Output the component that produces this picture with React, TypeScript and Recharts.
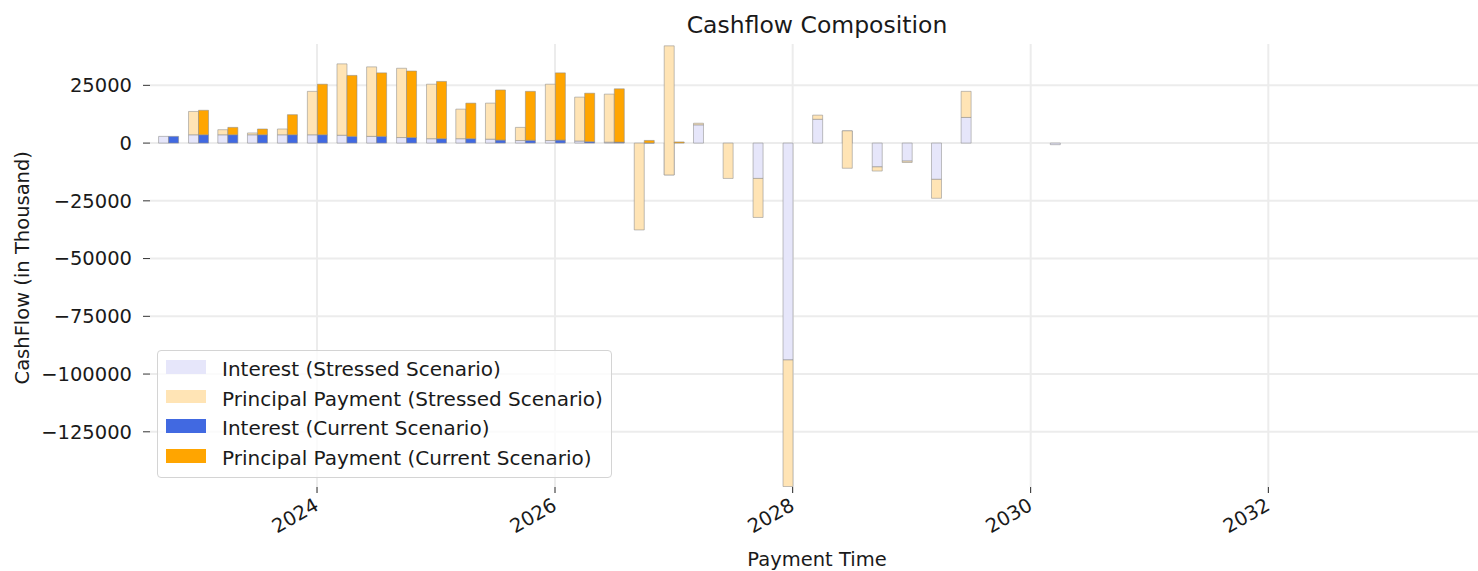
import React from "react";
import { Bar, BarChart, CartesianGrid, Legend, XAxis, YAxis } from "recharts";

// quarterly payment dates
const quarters = [
  "2022-10-01", "2023-01-01", "2023-04-01", "2023-07-01", "2023-10-01",
  "2024-01-01", "2024-04-01", "2024-07-01", "2024-10-01", "2025-01-01",
  "2025-04-01", "2025-07-01", "2025-10-01", "2026-01-01", "2026-04-01",
  "2026-07-01", "2026-10-01", "2027-01-01", "2027-04-01", "2027-07-01",
  "2027-10-01", "2028-01-01", "2028-04-01", "2028-07-01", "2028-10-01",
  "2029-01-01", "2029-04-01", "2029-07-01", "2029-10-01", "2030-01-01",
  "2030-04-01",
];

// values in thousand
const interestStressed = [
  2.9, 3.6, 3.6, 3.6, 3.6, 3.6, 3.4, 2.9, 2.4, 1.9,
  1.9, 1.7, 1.1, 1.1, 0.9, 0.4, 0, -13.8, 7.9, 0,
  -15.3, -93.9, 10.3, 5.3, -10.3, -7.8, -15.7, 11.1, 0, 0,
  -0.7,
];
const principalStressed = [
  0, 10.1, 2.2, 0.8, 2.5, 18.8, 30.9, 30.1, 30.0, 23.6,
  12.8, 15.6, 5.7, 24.4, 19.0, 20.8, -37.6, 55.9, 0.7, -15.3,
  -16.9, -54.8, 1.8, -16.2, -1.8, -0.6, -8.2, 11.3, 0, 0,
  0,
];
const interestCurrent = [
  2.9, 3.6, 3.6, 3.6, 3.6, 3.6, 2.9, 2.9, 2.4, 1.9,
  1.9, 1.3, 1.2, 1.3, 0.6, 0.4, 0.05, 0, 0, 0,
  0, 0, 0, 0, 0, 0, 0, 0, 0, 0,
  0,
];
const principalCurrent = [
  0, 10.6, 3.2, 2.5, 8.7, 21.9, 26.4, 27.5, 28.8, 24.8,
  15.4, 21.7, 21.2, 29.1, 21.0, 23.1, 1.1, 0.5, 0, 0,
  0, 0, 0, 0, 0, 0, 0, 0, 0, 0,
  0,
];

const yearTicks = [2024, 2026, 2028, 2030, 2032];
const yTicks = [-125000, -100000, -75000, -50000, -25000, 0, 25000];

const series = [
  { key: "is", label: "Interest (Stressed Scenario)", color: "#E6E6FA" },
  { key: "ps", label: "Principal Payment (Stressed Scenario)", color: "#FFE4B5" },
  { key: "ic", label: "Interest (Current Scenario)", color: "#4169E1" },
  { key: "pc", label: "Principal Payment (Current Scenario)", color: "#FFA500" },
];

const data = quarters.map((q, i) => ({
  t: Date.parse(q + "T00:00:00Z"),
  is: interestStressed[i] * 1000,
  ps: principalStressed[i] * 1000,
  ic: interestCurrent[i] * 1000,
  pc: principalCurrent[i] * 1000,
}));

const xTicks = yearTicks.map((y) => Date.UTC(y, 0, 1));
const xStart = Date.UTC(2022, 7, 6);
const xEnd = Date.UTC(2033, 9, 6);
const yMin = -148900;
const yMax = 42900;

const FONT = "DejaVu Sans, sans-serif";
const TEXT = "#1a1a1a";

const fmtY = (v: number) => (v < 0 ? "\u2212" + Math.abs(v) : String(v));

// grid only at the tick values, not on the plot border
const hGrid = ({ yAxis, offset }: any) =>
  yTicks.map((v) =>
    yAxis && typeof yAxis.scale === "function"
      ? yAxis.scale(v)
      : offset.top + (offset.height * (yMax - v)) / (yMax - yMin)
  );
const vGrid = ({ xAxis, offset }: any) =>
  xTicks.map((v) =>
    xAxis && typeof xAxis.scale === "function"
      ? xAxis.scale(v)
      : offset.left + (offset.width * (v - xStart)) / (xEnd - xStart)
  );

function YearTick(props: any) {
  const { x, payload } = props;
  const ax = x + 3;
  const ay = 509;
  return (
    <text
      x={ax}
      y={ay}
      transform={`rotate(-30 ${ax} ${ay})`}
      textAnchor="end"
      fontSize={19.5}
      fontFamily={FONT}
      fill={TEXT}
    >
      {new Date(payload.value).getUTCFullYear()}
    </text>
  );
}

function LegendBox() {
  return (
    <div
      style={{
        position: "relative",
        width: 453,
        height: 126,
        border: "1px solid #d4d4d4",
        borderRadius: 4,
        background: "rgba(255,255,255,0.8)",
        fontFamily: FONT,
        fontSize: 20,
        color: TEXT,
      }}
    >
      {series.map((s, i) => (
        <div key={s.key}>
          <div
            style={{
              position: "absolute",
              left: 8,
              top: 9 + i * 29.7,
              width: 40,
              height: 13.5,
              background: s.color,
            }}
          />
          <div
            style={{
              position: "absolute",
              left: 64,
              top: 8 + i * 29.7,
              lineHeight: 1,
              whiteSpace: "nowrap",
            }}
          >
            {s.label}
          </div>
        </div>
      ))}
    </div>
  );
}

export default function App() {
  return (
    <div
      style={{
        position: "absolute",
        left: 0,
        top: 0,
        width: 1478,
        height: 571,
        background: "#fff",
        fontFamily: FONT,
        overflow: "hidden",
      }}
    >
      <div
        style={{
          position: "absolute",
          left: 517,
          width: 600,
          top: 14.4,
          textAlign: "center",
          fontSize: 23.5,
          lineHeight: 1,
          color: TEXT,
        }}
      >
        Cashflow Composition
      </div>
      <div
        style={{
          position: "absolute",
          left: 617,
          width: 400,
          top: 549.5,
          textAlign: "center",
          fontSize: 19.5,
          lineHeight: 1,
          color: TEXT,
        }}
      >
        Payment Time
      </div>
      <div
        style={{
          position: "absolute",
          left: 22.5 - 200,
          width: 400,
          top: 268 - 9.75,
          height: 19.5,
          textAlign: "center",
          fontSize: 19.5,
          lineHeight: 1,
          color: TEXT,
          transform: "rotate(-90deg)",
          whiteSpace: "nowrap",
        }}
      >
        CashFlow (in Thousand)
      </div>
      <BarChart
        width={1478}
        height={571}
        data={data}
        margin={{ top: 44, right: 0, bottom: 0, left: 0 }}
        barGap={0}
        barSize={10}
        style={{ position: "absolute", left: 0, top: 0 }}
      >
        <CartesianGrid
          stroke="#ececec"
          strokeWidth={2}
          horizontalCoordinatesGenerator={hGrid}
          verticalCoordinatesGenerator={vGrid}
        />
        <XAxis
          type="number"
          dataKey="t"
          domain={[xStart, xEnd]}
          allowDataOverflow
          ticks={xTicks}
          height={84}
          axisLine={false}
          tickSize={6}
          tickLine={{ stroke: "#222" }}
          tick={<YearTick />}
          interval={0}
        />
        <YAxis
          type="number"
          domain={[yMin, yMax]}
          allowDataOverflow
          ticks={yTicks}
          width={150}
          axisLine={false}
          tickSize={7}
          tickMargin={11}
          tickLine={{ stroke: "#333" }}
          tickFormatter={fmtY}
          tick={{ fontSize: 19.5, fontFamily: FONT, fill: TEXT }}
          interval={0}
        />
        <Legend
          layout="vertical"
          align="center"
          verticalAlign="middle"
          content={() => <LegendBox />}
          wrapperStyle={{ left: 157, top: 350, width: 455, height: 128 }}
        />
        {series.map((s) => (
          <Bar
            key={s.key}
            dataKey={s.key}
            name={s.label}
            stackId={s.key.endsWith("s") ? "stressed" : "current"}
            fill={s.color}
            stroke="#8c8c8c"
            strokeOpacity={0.55}
            strokeWidth={1}
            isAnimationActive={false}
          />
        ))}
      </BarChart>
    </div>
  );
}
